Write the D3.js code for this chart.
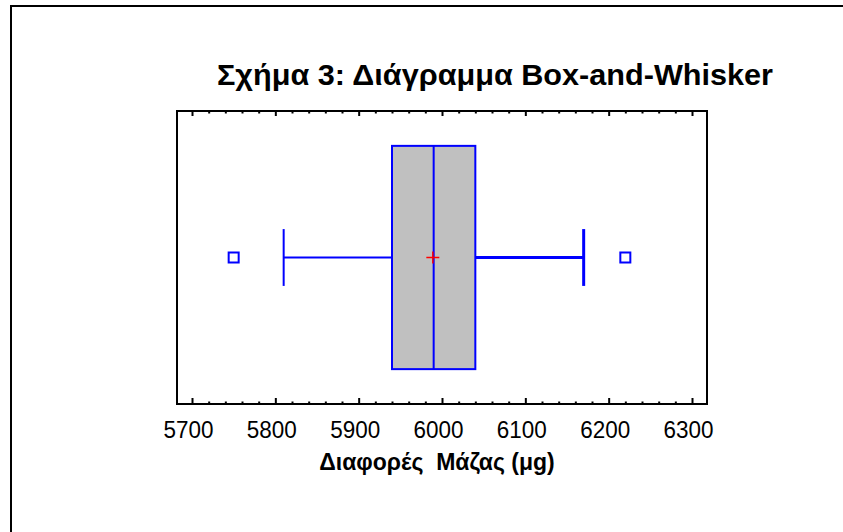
<!DOCTYPE html>
<html>
<head>
<meta charset="utf-8">
<script src="https://cdn.jsdelivr.net/npm/d3@7"></script>
<style>
  html, body { margin: 0; padding: 0; background: #fff; }
  svg { display: block; }
  text { font-family: "Liberation Sans", Arial, Helvetica, sans-serif; }
</style>
</head>
<body>
<svg id="chart" width="843" height="532"></svg>
<script>
// Summary statistics of the mass differences (μg)
const boxStats = { q1: 5940, median: 5990, q3: 6040 };
const whiskers = [5810, 6170];
const meanValue = 5989;
const outliers = [5750, 6220];

// Axis ticks
const majorTicks = [5700, 5800, 5900, 6000, 6100, 6200, 6300];
const minorTicks = d3.range(5700, 6301, 20);

const titleText = "Σχήμα 3: Διάγραμμα Box-and-Whisker";
const xLabel = "Διαφορές  Μάζας (μg)";

const svg = d3.select("#chart");
const plot = { left: 177, right: 707, top: 111, bottom: 404 };

const x = d3.scaleLinear().domain([5682, 6318]).range([plot.left, plot.right]);
const y = d3.scaleLinear().domain([0, 1]).range([plot.bottom, plot.top]);

// Outer frame (runs off the page on the right and bottom)
svg.append("rect")
  .attr("x", 11).attr("y", 6)
  .attr("width", 900).attr("height", 600)
  .attr("fill", "none").attr("stroke", "#000").attr("stroke-width", 2);

// Title
svg.append("text")
  .attr("x", 217).attr("y", 85)
  .attr("font-size", 29).attr("font-weight", "bold")
  .attr("textLength", 556).attr("lengthAdjust", "spacingAndGlyphs")
  .text(titleText);

// Ticks along the bottom and top edges, pointing into the plot
function tickAxis(gen, ty, majorLen, minorLen) {
  const gMinor = svg.append("g").attr("transform", `translate(0,${ty})`)
    .call(gen(x).tickValues(minorTicks.filter(v => !majorTicks.includes(v)))
      .tickSize(minorLen).tickFormat(""));
  const gMajor = svg.append("g").attr("transform", `translate(0,${ty})`)
    .call(gen(x).tickValues(majorTicks).tickSize(majorLen).tickFormat(""));
  [gMinor, gMajor].forEach(g => {
    g.select(".domain").remove();
    g.selectAll(".tick line").attr("stroke", "#000").attr("stroke-width", 2);
  });
  return gMajor;
}
tickAxis(d3.axisBottom, plot.bottom, -6, -2.5);
tickAxis(d3.axisTop, plot.top, -5, -2.5);

// Bottom tick labels
const labels = svg.append("g").attr("transform", `translate(0,${plot.bottom})`)
  .call(d3.axisBottom(x).tickValues(majorTicks).tickSize(0).tickPadding(0)
    .tickFormat(d3.format("d")));
labels.select(".domain").remove();
labels.selectAll(".tick text")
  .attr("font-family", "'Liberation Sans', Arial, sans-serif")
  .attr("font-size", 23.5).attr("fill", "#000")
  .attr("dy", null).attr("y", 34).attr("dx", -4)
  .attr("textLength", 50).attr("lengthAdjust", "spacingAndGlyphs");

// Axis title
svg.append("text")
  .attr("x", 437).attr("y", 470)
  .attr("text-anchor", "middle")
  .style("white-space", "pre")
  .attr("font-size", 23).attr("font-weight", "bold")
  .text(xLabel);

// Plot frame
svg.append("rect")
  .attr("x", plot.left).attr("y", plot.top)
  .attr("width", plot.right - plot.left).attr("height", plot.bottom - plot.top)
  .attr("fill", "none").attr("stroke", "#000").attr("stroke-width", 2);

const blue = "#0000ff";
const mid = y(0.5);
const boxHalf = 0.381, capHalf = 0.097;

// Whiskers
svg.append("line")
  .attr("x1", x(whiskers[0])).attr("x2", x(boxStats.q1))
  .attr("y1", mid).attr("y2", mid)
  .attr("stroke", blue).attr("stroke-width", 2);
svg.append("line")
  .attr("x1", x(boxStats.q3)).attr("x2", x(whiskers[1]))
  .attr("y1", mid).attr("y2", mid)
  .attr("stroke", blue).attr("stroke-width", 3);
svg.selectAll("line.cap").data(whiskers).join("line")
  .attr("class", "cap")
  .attr("x1", d => x(d)).attr("x2", d => x(d))
  .attr("y1", y(0.5 + capHalf)).attr("y2", y(0.5 - capHalf))
  .attr("stroke", blue).attr("stroke-width", (d, i) => i === 0 ? 2 : 3);

// Box
svg.append("rect")
  .attr("x", x(boxStats.q1)).attr("y", y(0.5 + boxHalf))
  .attr("width", x(boxStats.q3) - x(boxStats.q1))
  .attr("height", y(0.5 - boxHalf) - y(0.5 + boxHalf))
  .attr("fill", "#c0c0c0").attr("stroke", blue).attr("stroke-width", 2);

// Median
svg.append("line")
  .attr("x1", x(boxStats.median)).attr("x2", x(boxStats.median))
  .attr("y1", y(0.5 + boxHalf)).attr("y2", y(0.5 - boxHalf))
  .attr("stroke", blue).attr("stroke-width", 2);

// Mean marker
const mx = x(meanValue);
svg.append("path")
  .attr("d", `M${mx - 6.5},${mid}H${mx + 6.5}M${mx},${mid - 6}V${mid + 6}`)
  .attr("stroke", "#ff0000").attr("stroke-width", 1.5).attr("fill", "none");

// Outliers
svg.selectAll("rect.outlier").data(outliers).join("rect")
  .attr("class", "outlier")
  .attr("x", d => x(d) - 5).attr("y", mid - 5)
  .attr("width", 10).attr("height", 10)
  .attr("fill", "#fff").attr("stroke", blue).attr("stroke-width", 2);
</script>
</body>
</html>
